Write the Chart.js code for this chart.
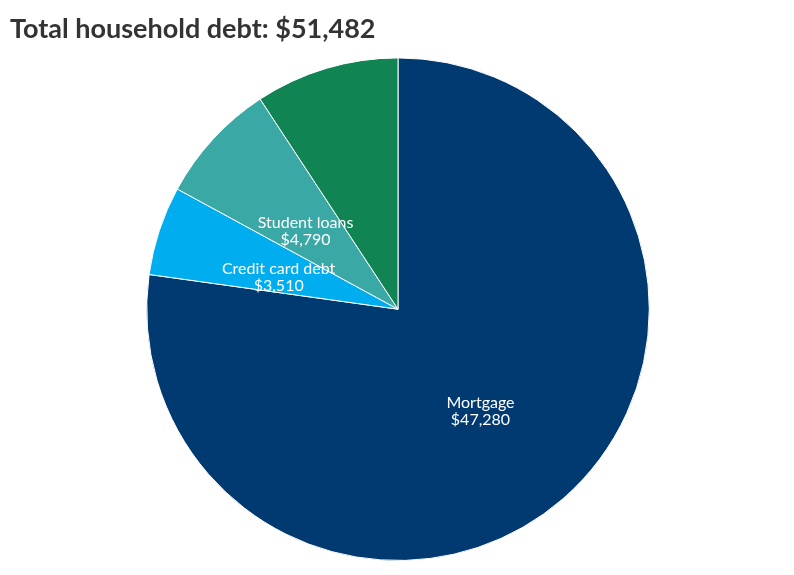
<!DOCTYPE html>
<html>
<head>
<meta charset="utf-8">
<script src="https://cdn.jsdelivr.net/npm/chart.js@4"></script>
<style>
  body { margin: 0; background: #fff; }
  #wrap { width: 794px; height: 575px; }
</style>
</head>
<body>
<div id="wrap"><canvas id="chart"></canvas></div>
<script>
const categories = ["Mortgage", "Credit card debt", "Student loans", "Auto loans"];
const debtValues = [47280, 3510, 4790, 5660];
const showLabel = [true, true, true, false];
const sliceColors = ["#003a70", "#00aeef", "#3aa8a4", "#108553"];

// draw "name / $value" in the middle of each slice
const sliceLabels = {
    id: "sliceLabels",
    afterDatasetsDraw(chart) {
        const ctx = chart.ctx;
        const meta = chart.getDatasetMeta(0);
        ctx.save();
        ctx.fillStyle = "#ffffff";
        ctx.font = "16px Lato, 'Open Sans', sans-serif";
        ctx.textAlign = "center";
        ctx.textBaseline = "middle";
        meta.data.forEach((arc, i) => {
            if (!showLabel[i]) return;
            const pos = arc.tooltipPosition();
            ctx.fillText(categories[i], pos.x, pos.y - 1);
            ctx.fillText("$" + debtValues[i].toLocaleString("en-US"), pos.x, pos.y + 16);
        });
        ctx.restore();
    }
};

const ctx = document.getElementById("chart").getContext("2d");
new Chart(ctx, {
    type: "pie",
    data: {
        labels: categories,
        datasets: [{
            data: debtValues,
            backgroundColor: sliceColors,
            borderColor: "#ffffff",
            borderWidth: 1
        }]
    },
    options: {
        responsive: true,
        maintainAspectRatio: false,
        animation: false,
        layout: { padding: { left: 10, right: 8, top: 0, bottom: 14 } },
        plugins: {
            legend: { display: false },
            tooltip: { enabled: false },
            title: {
                display: true,
                text: "Total household debt: $51,482",
                align: "start",
                color: "#333333",
                font: { family: "Lato, 'Open Sans', sans-serif", size: 27, weight: "bold" },
                padding: { top: 13, bottom: 12 }
            }
        }
    },
    plugins: [sliceLabels]
});
</script>
</body>
</html>
